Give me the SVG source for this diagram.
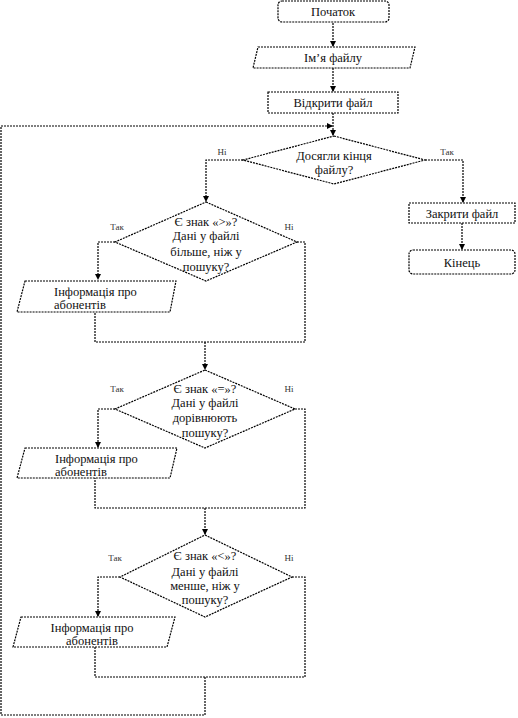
<svg xmlns="http://www.w3.org/2000/svg" width="518" height="718" viewBox="0 0 518 718">
<defs>
<marker id="arr" markerWidth="6" markerHeight="6" refX="5" refY="3" orient="auto" markerUnits="userSpaceOnUse">
<path d="M0,0 L6,3 L0,6 Z" fill="#000"/>
</marker>
<style>
.sh{fill:#fff;stroke:#000;stroke-width:1.2;stroke-dasharray:2 1}
.ln{fill:none;stroke:#000;stroke-width:1.2;stroke-dasharray:2 1}
text{font-family:'Liberation Serif','Times New Roman','DejaVu Serif',serif}
.t{font-size:12.5px;fill:#111;text-anchor:middle}
.tl{font-size:12.5px;fill:#111}
.lb{font-size:9px;fill:#333;text-anchor:middle}
</style>
</defs>
<rect width="518" height="718" fill="#fff"/>
<g id="connectors">
<path class="ln" d="M333,23 V46" marker-end="url(#arr)"/>
<path class="ln" d="M333,68 V91" marker-end="url(#arr)"/>
<path class="ln" d="M333,113 V135" marker-end="url(#arr)"/>
<path class="ln" d="M205,677 V715 H1 V126 H332" marker-end="url(#arr)"/>
<path class="ln" d="M243,160 H206 V201" marker-end="url(#arr)"/>
<path class="ln" d="M425,160 H463 V202" marker-end="url(#arr)"/>
<path class="ln" d="M462,223 V249" marker-end="url(#arr)"/>
<path class="ln" d="M115,242 H98 V279" marker-end="url(#arr)"/>
<path class="ln" d="M297,242 H305 V342 H95 V312"/>
<path class="ln" d="M205,342 V369" marker-end="url(#arr)"/>
<path class="ln" d="M115,409 H98 V447" marker-end="url(#arr)"/>
<path class="ln" d="M295,409 H305 V508 H95 V478"/>
<path class="ln" d="M205,508 V534" marker-end="url(#arr)"/>
<path class="ln" d="M120,577 H98 V616" marker-end="url(#arr)"/>
<path class="ln" d="M292,577 H305 V677 H95 V647"/>
<text class="lb" x="222" y="155">Ні</text>
<text class="lb" x="447" y="155">Так</text>
<text class="lb" x="117" y="230">Так</text>
<text class="lb" x="289" y="230">Ні</text>
<text class="lb" x="117" y="392">Так</text>
<text class="lb" x="289" y="392">Ні</text>
<text class="lb" x="115" y="561">Так</text>
<text class="lb" x="289" y="561">Ні</text>
</g>
<g id="start">
<rect class="sh" x="278" y="1" width="111" height="21" rx="4"/>
<text class="t" x="333" y="16">Початок</text>
</g>
<g id="filename">
<polygon class="sh" points="258,47 415,47 410,68 253,68"/>
<text class="t" x="333" y="62">Ім’я файлу</text>
</g>
<g id="open">
<rect class="sh" x="268" y="92" width="130" height="21"/>
<text class="t" x="333" y="107">Відкрити файл</text>
</g>
<g id="eof">
<polygon class="sh" points="334,136 425,160 334,184 243,160"/>
<text class="t" x="334" y="160">Досягли кінця</text>
<text class="t" x="334" y="174">файлу?</text>
</g>
<g id="close">
<rect class="sh" x="409" y="203" width="106" height="20"/>
<text class="t" x="462" y="218">Закрити файл</text>
</g>
<g id="end">
<rect class="sh" x="409" y="250" width="106" height="24" rx="4"/>
<text class="t" x="462" y="267">Кінець</text>
</g>
<g id="gt">
<polygon class="sh" points="206,202 297,242 206,281 115,242"/>
<text class="t" x="206" y="226">Є знак «&gt;»?</text>
<text class="t" x="206" y="240">Дані у файлі</text>
<text class="t" x="206" y="256">більше, ніж у</text>
<text class="t" x="206" y="271">пошуку?</text>
</g>
<g id="info1">
<polygon class="sh" points="25,281 176,281 170,312 17,312"/>
<text class="tl" x="54" y="296">Інформація про</text>
<text class="tl" x="54" y="309">абонентів</text>
</g>
<g id="eq">
<polygon class="sh" points="205,370 295,409 205,448 115,409"/>
<text class="t" x="205" y="393">Є знак «=»?</text>
<text class="t" x="205" y="407">Дані у файлі</text>
<text class="t" x="205" y="422">дорівнюють</text>
<text class="t" x="205" y="437">пошуку?</text>
</g>
<g id="info2">
<polygon class="sh" points="25,448 177,448 170,478 17,478"/>
<text class="tl" x="55" y="463">Інформація про</text>
<text class="tl" x="55" y="476">абонентів</text>
</g>
<g id="lt">
<polygon class="sh" points="205,535 292,577 205,617 120,577"/>
<text class="t" x="205" y="560">Є знак «&lt;»?</text>
<text class="t" x="205" y="576">Дані у файлі</text>
<text class="t" x="205" y="590">менше, ніж у</text>
<text class="t" x="205" y="604">пошуку?</text>
</g>
<g id="info3">
<polygon class="sh" points="21,617 175,617 167,647 13,647"/>
<text class="t" x="92" y="632">Інформація про</text>
<text class="t" x="92" y="645">абонентів</text>
</g>
</svg>
